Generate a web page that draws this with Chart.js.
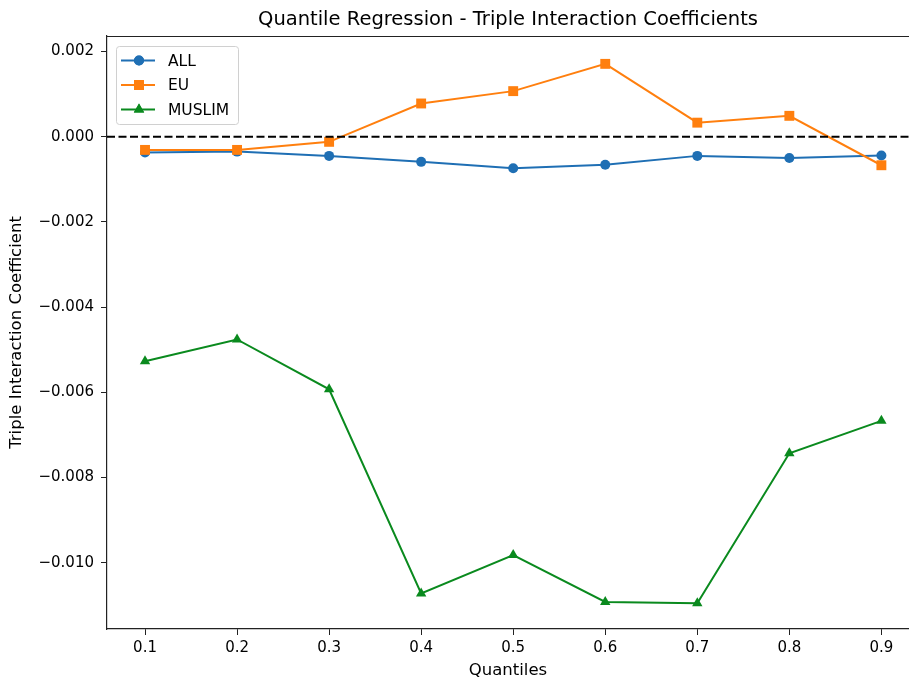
<!DOCTYPE html>
<html>
<head>
<meta charset="utf-8">
<script src="https://cdn.jsdelivr.net/npm/chart.js@4.4.1/dist/chart.umd.min.js"></script>
<style>
    body { margin: 0; background: #fff; }
    #wrap { width: 909px; height: 681px; }
</style>
</head>
<body>
<div id="wrap"><canvas id="chart" width="909" height="681"></canvas></div>
<script>
// quantiles on the x axis
const quantiles = [0.1, 0.2, 0.3, 0.4, 0.5, 0.6, 0.7, 0.8, 0.9];

// coefficients
const allValues = [-0.00037, -0.00035, -0.00045, -0.00059, -0.00074, -0.00066, -0.00045, -0.00050, -0.00044];
const euValues = [-0.00031, -0.00031, -0.00012, 0.00078, 0.00107, 0.00171, 0.00033, 0.00049, -0.00067];
const muslimValues = [-0.00527, -0.00476, -0.00593, -0.01072, -0.00982, -0.01092, -0.01095, -0.00743, -0.00667];

const seriesLabels = ["ALL", "EU", "MUSLIM"];
const xTicks = [0.1, 0.2, 0.3, 0.4, 0.5, 0.6, 0.7, 0.8, 0.9];
const yTicks = [-0.010, -0.008, -0.006, -0.004, -0.002, 0.000, 0.002];

const chartTitle = "Quantile Regression - Triple Interaction Coefficients";
const xTitle = "Quantiles";
const yTitle = "Triple Interaction Coefficient";

const FONT = "'DejaVu Sans', sans-serif";

const toPoints = (vals) => quantiles.map((q, i) => ({ x: q, y: vals[i] }));

// title, zero line, top spine and legend
const decorPlugin = {
    id: 'decorPlugin',
    afterDatasetsDraw: function (chart) {
        const { ctx, chartArea, scales: { x, y } } = chart;
        ctx.save();

        // dashed zero line
        const y0 = y.getPixelForValue(0);
        ctx.beginPath();
        ctx.setLineDash([8, 3.5]);
        ctx.moveTo(chartArea.left, y0);
        ctx.lineTo(chartArea.right, y0);
        ctx.strokeStyle = '#000';
        ctx.lineWidth = 2;
        ctx.stroke();
        ctx.setLineDash([]);

        // top spine
        ctx.beginPath();
        ctx.moveTo(chartArea.left, chartArea.top + 0.5);
        ctx.lineTo(chartArea.right, chartArea.top + 0.5);
        ctx.strokeStyle = '#222';
        ctx.lineWidth = 1.2;
        ctx.stroke();

        // title
        ctx.fillStyle = '#000';
        ctx.font = '19.5px ' + FONT;
        ctx.textAlign = 'center';
        ctx.textBaseline = 'middle';
        ctx.fillText(chartTitle, (chartArea.left + chartArea.right) / 2, 20);

        // legend
        const bx = 116, by = 46, bw = 122, bh = 78;
        ctx.beginPath();
        ctx.roundRect(bx + 0.5, by + 0.5, bw, bh, 3);
        ctx.fillStyle = 'rgba(255,255,255,0.8)';
        ctx.fill();
        ctx.strokeStyle = '#d0d0d0';
        ctx.lineWidth = 1;
        ctx.stroke();

        chart.data.datasets.forEach((ds, i) => {
            const ly = 60.5 + i * 24.5;
            ctx.beginPath();
            ctx.moveTo(121, ly);
            ctx.lineTo(155, ly);
            ctx.strokeStyle = ds.borderColor;
            ctx.lineWidth = 2;
            ctx.stroke();
            ctx.fillStyle = ds.borderColor;
            Chart.helpers.drawPoint(ctx, {
                pointStyle: ds.pointStyle,
                radius: ds.pointRadius,
                borderWidth: 0,
                rotation: 0
            }, 139, ly);
            ctx.fill();
            ctx.fillStyle = '#000';
            ctx.font = '15.5px ' + FONT;
            ctx.textAlign = 'left';
            ctx.fillText(ds.label, 168, ly + 1);
        });

        ctx.restore();
    }
};

const tickFmt = (v) => {
    const s = Math.abs(v) < 1e-12 ? '0.000' : v.toFixed(3);
    return s.replace('-', '\u2212');
};

const makeSet = (label, vals, color, style, radius, order) => ({
    label: label,
    data: toPoints(vals),
    borderColor: color,
    backgroundColor: color,
    pointBackgroundColor: color,
    pointBorderColor: color,
    pointBorderWidth: 0,
    pointStyle: style,
    pointRadius: radius,
    borderWidth: 2,
    tension: 0,
    order: order
});

const config = {
    type: 'line',
    data: {
        datasets: [
            makeSet(seriesLabels[0], allValues, '#1f6fb4', 'circle', 5, 3),
            makeSet(seriesLabels[1], euValues, '#ff7f0e', 'rect', 7, 2),
            makeSet(seriesLabels[2], muslimValues, '#0a8a1e', 'triangle', 6, 1)
        ]
    },
    plugins: [decorPlugin],
    options: {
        responsive: false,
        animation: false,
        layout: {
            autoPadding: false,
            padding: { top: 36, left: 0, right: 0, bottom: 0 }
        },
        plugins: {
            legend: { display: false },
            title: { display: false },
            tooltip: { enabled: false }
        },
        scales: {
            x: {
                type: 'linear',
                min: 0.0587,
                max: 0.93,
                afterBuildTicks: (scale) => { scale.ticks = xTicks.map(v => ({ value: v })); },
                afterFit: (scale) => {
                    scale.height = 52;
                    scale.paddingLeft = 0;
                    scale.paddingRight = 0;
                },
                grid: { drawOnChartArea: false, drawTicks: true, tickLength: 6, color: '#222' },
                border: { color: '#222', width: 1.2 },
                ticks: {
                    color: '#000',
                    padding: 4,
                    maxRotation: 0,
                    font: { family: FONT, size: 15 },
                    callback: (v) => v.toFixed(1)
                },
                title: {
                    display: true,
                    text: xTitle,
                    color: '#000',
                    padding: { top: 0, bottom: 0 },
                    font: { family: FONT, size: 16.5 }
                }
            },
            y: {
                type: 'linear',
                min: -0.011556,
                max: 0.002364,
                afterBuildTicks: (scale) => { scale.ticks = yTicks.map(v => ({ value: v })); },
                afterFit: (scale) => {
                    scale.width = 107;
                    scale.paddingTop = 0;
                    scale.paddingBottom = 0;
                },
                grid: { drawOnChartArea: false, drawTicks: true, tickLength: 6, color: '#222' },
                border: { color: '#222', width: 1.2 },
                ticks: {
                    color: '#000',
                    padding: 7,
                    font: { family: FONT, size: 15 },
                    callback: (v) => tickFmt(v)
                },
                title: {
                    display: true,
                    text: yTitle,
                    color: '#000',
                    padding: { top: 7, bottom: 4 },
                    font: { family: FONT, size: 16.5 }
                }
            }
        }
    }
};

const myChart = new Chart(document.getElementById('chart'), config);
</script>
</body>
</html>
